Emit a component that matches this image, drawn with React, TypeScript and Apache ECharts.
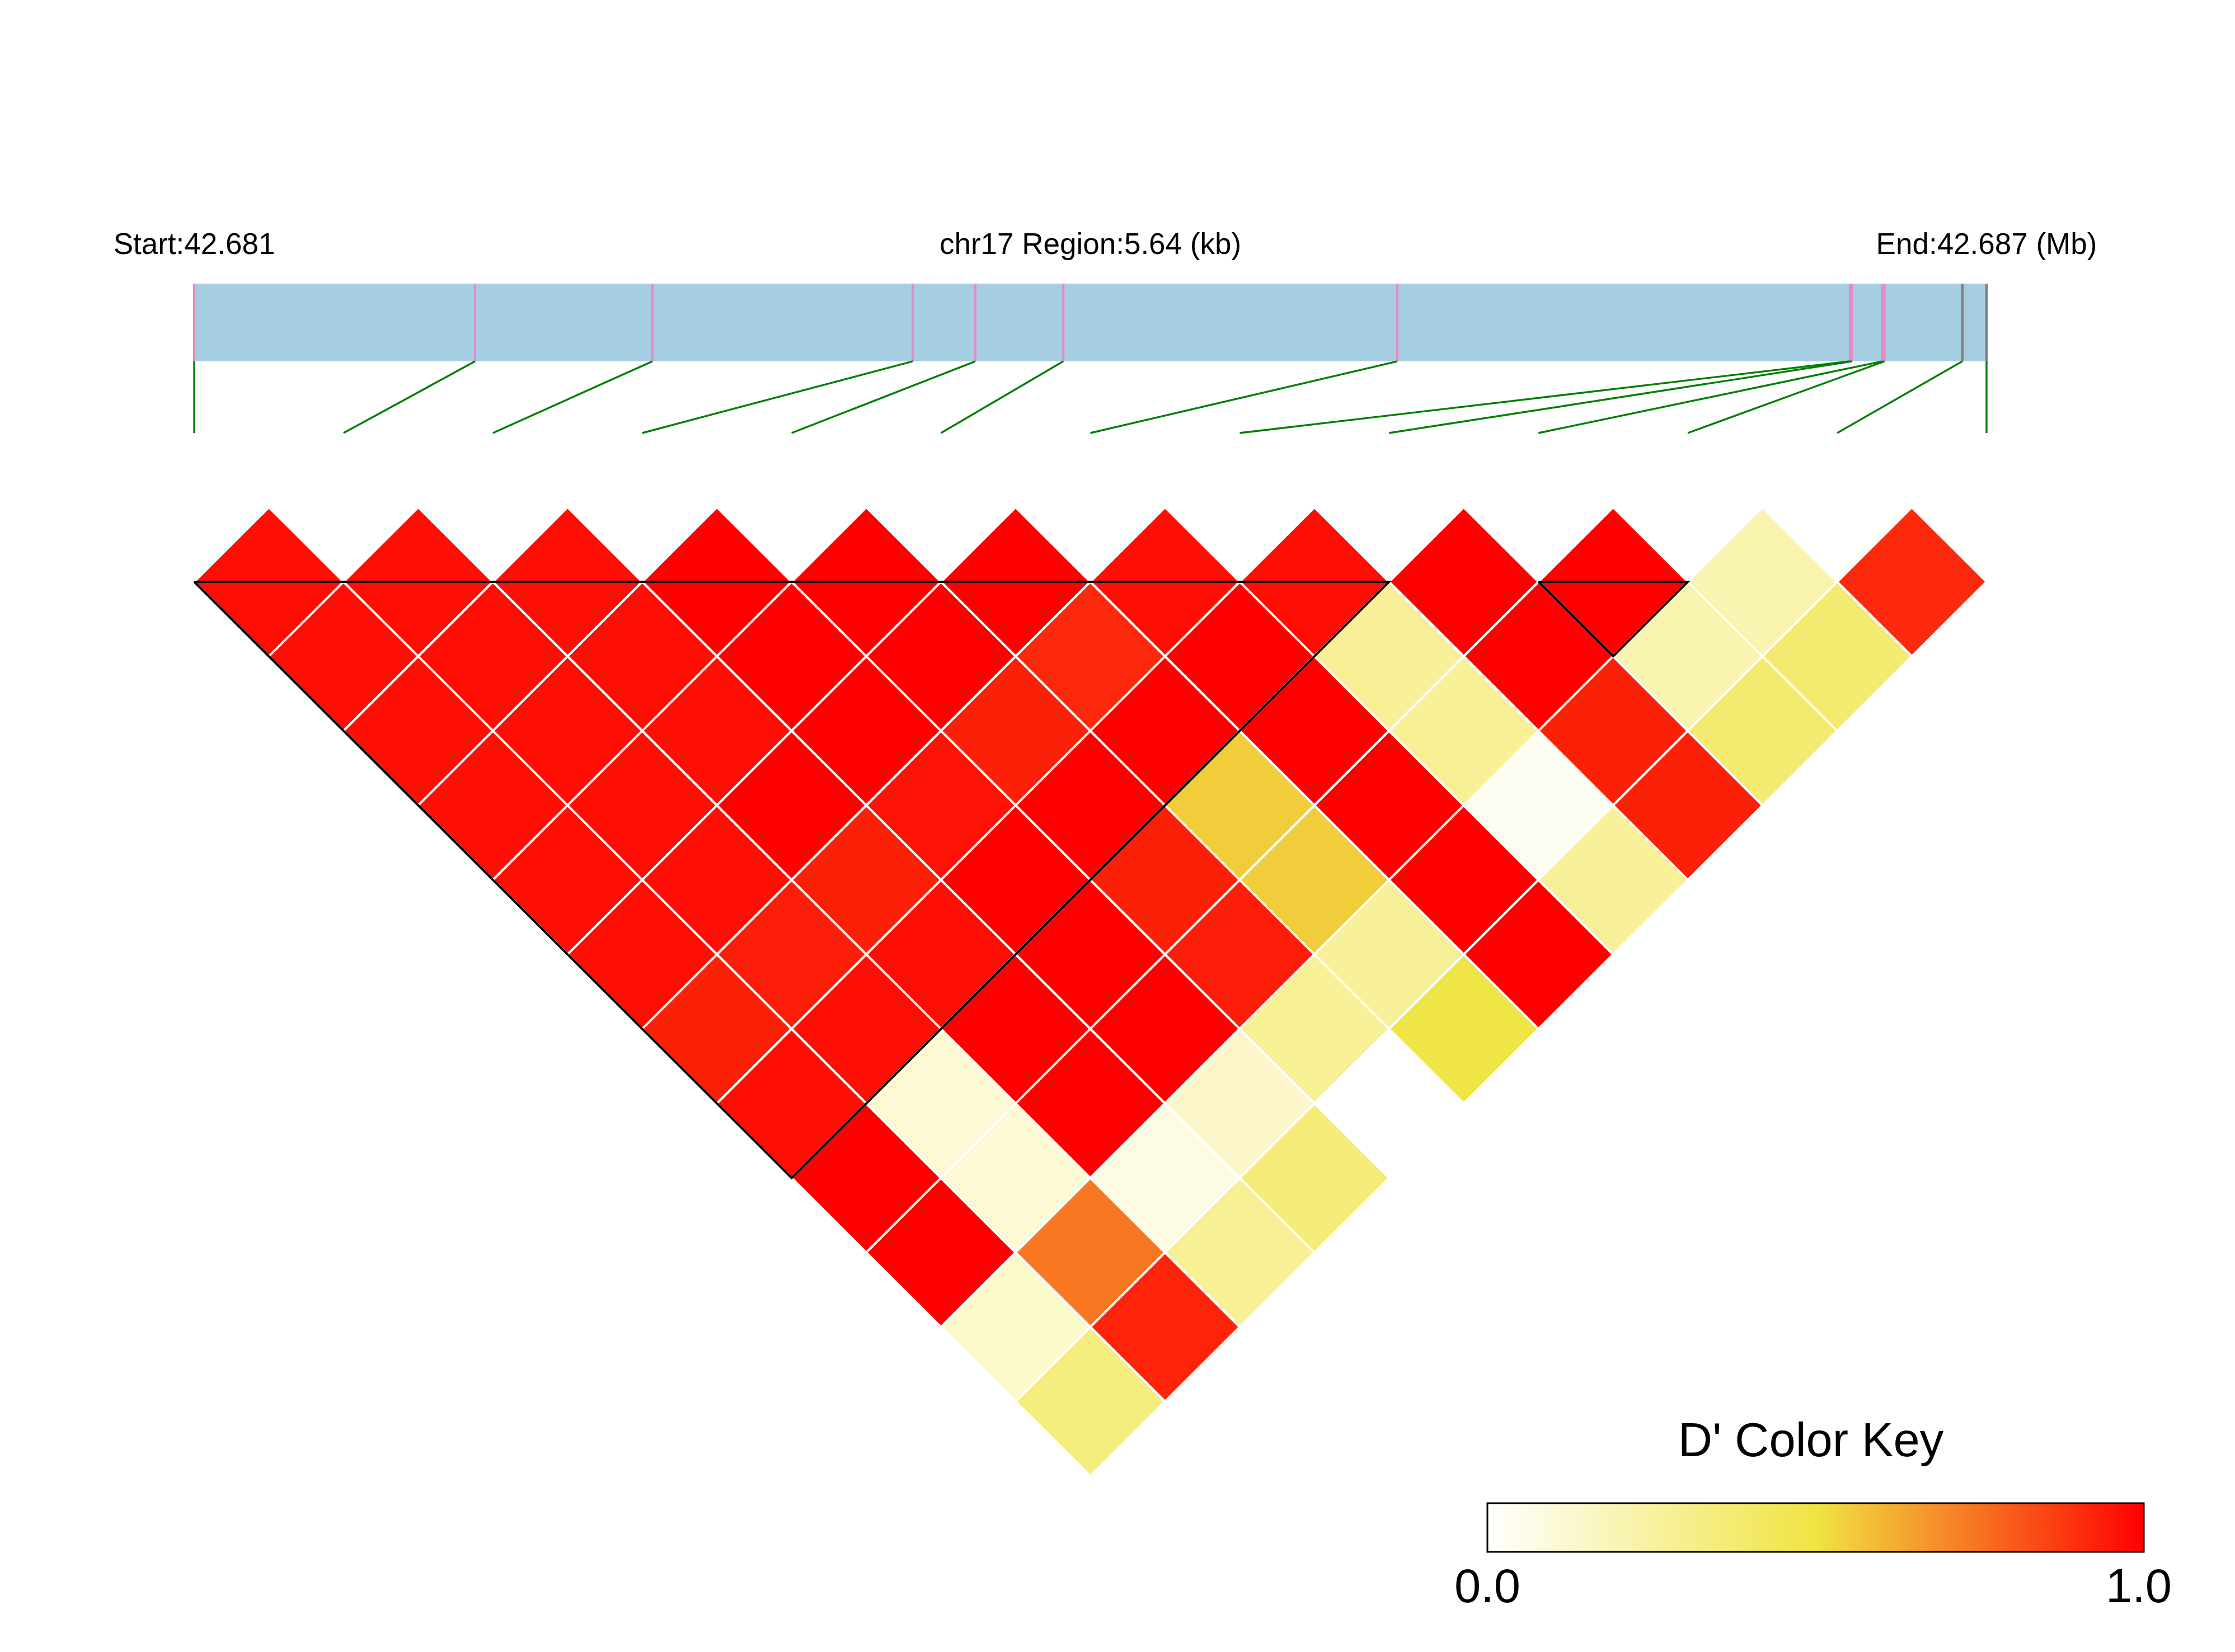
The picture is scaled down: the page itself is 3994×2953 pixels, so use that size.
import React, { useEffect, useRef } from "react";
import * as echarts from "echarts";

// ---------------- data ----------------
const regionChrom = "chr17";
const regionStartBp = 42681200;
const regionEndBp = 42686840;

const snpPositionsBp = [
  42681200, 42682084, 42682642, 42683461, 42683658, 42683935, 42684986,
  42686410, 42686417, 42686512, 42686519, 42686764, 42686840,
];
const snpMarkerColors = [
  "#e78ac3", "#e78ac3", "#e78ac3", "#e78ac3", "#e78ac3", "#e78ac3", "#e78ac3",
  "#e78ac3", "#e78ac3", "#e78ac3", "#e78ac3", "#808080", "#808080",
];

// D' upper triangle: row i holds D'(i, j) for j = i+1 .. 13 (null = missing)
const dPrimeRow1 = [0.97, 0.97, 0.97, 0.97, 0.97, 0.97, 0.93, 0.97, 1, 1, 0.135, 0.34];
const dPrimeRow2 = [0.97, 0.97, 0.97, 0.97, 0.97, 0.935, 0.97, 0.11, 0.11, 0.74, 0.92];
const dPrimeRow3 = [0.97, 0.97, 0.97, 1, 0.93, 0.97, 1, 1, 0.08, 0.28];
const dPrimeRow4 = [1, 1, 1, 0.96, 1, 1, 1, 0.14, 0.36];
const dPrimeRow5 = [1, 1, 0.93, 1, 0.93, 0.935, 0.28, null];
const dPrimeRow6 = [1, 0.91, 1, 0.55, 0.55, 0.27, 0.49];
const dPrimeRow7 = [0.97, 1, 1, 1, 1, 1];
const dPrimeRow8 = [0.97, 0.27, 0.28, 0.03, 0.27];
const dPrimeRow9 = [1, 1, 0.93, 0.93];
const dPrimeRow10 = [1, 0.21, 0.38];
const dPrimeRow11 = [0.21, 0.38];
const dPrimeRow12 = [0.91];

// LD blocks (1-based first and last SNP)
const ldBlocks = [
  [1, 9],
  [10, 11],
];

const colorKeyStops = ["#FFFFFF", "#F0E442", "#FF0000"];
const colorKeyLabels = ["0.0", "1.0"];
const colorKeyTitle = "D' Color Key";

// ---------------- helpers ----------------
const dPrimeRows = [
  dPrimeRow1, dPrimeRow2, dPrimeRow3, dPrimeRow4, dPrimeRow5, dPrimeRow6,
  dPrimeRow7, dPrimeRow8, dPrimeRow9, dPrimeRow10, dPrimeRow11, dPrimeRow12,
];

function hexToRgb(h: string) {
  const n = parseInt(h.slice(1), 16);
  return [(n >> 16) & 255, (n >> 8) & 255, n & 255];
}
function colorFor(v: number) {
  const stops = colorKeyStops.map(hexToRgb);
  const seg = stops.length - 1;
  const t = Math.max(0, Math.min(1, v)) * seg;
  const k = Math.min(seg - 1, Math.floor(t));
  const f = t - k;
  const a = stops[k];
  const b = stops[k + 1];
  const c = a.map((x, idx) => Math.round(x + (b[idx] - x) * f));
  return `rgb(${c[0]},${c[1]},${c[2]})`;
}

const FONT = "'Liberation Sans', Arial, Helvetica, sans-serif";

export default function App() {
  const ref = useRef<HTMLDivElement | null>(null);

  useEffect(() => {
    if (!ref.current) return;
    const chart = echarts.init(ref.current, undefined, { renderer: "svg" });
    const nSnp = snpPositionsBp.length;

    const cellData: number[][] = [];
    dPrimeRows.forEach((row, i) => {
      row.forEach((v, k) => {
        if (v !== null && v !== undefined) cellData.push([i, i + k + 1, v as number]);
      });
    });

    const snpData = snpPositionsBp.map((p, k) => [p, k]);
    const headerLabels = [
      `Start:${(regionStartBp / 1e6).toFixed(3)}`,
      `${regionChrom} Region:${((regionEndBp - regionStartBp) / 1000).toFixed(2)} (kb)`,
      `End:${(regionEndBp / 1e6).toFixed(3)} (Mb)`,
    ];
    const headerData = [
      [regionStartBp, 0],
      [(regionStartBp + regionEndBp) / 2, 1],
      [regionEndBp, 2],
    ];

    const barTop = 0;
    const barBottom = 52;
    const lineBottom = 100;
    const labelY = -26.6;

    const textStyle = (text: string, size: number) => ({
      text,
      fill: "#000",
      fontSize: size,
      fontFamily: FONT,
      align: "center",
      verticalAlign: "middle",
      textAlign: "center",
      textVerticalAlign: "middle",
    });

    const option: any = {
      animation: false,
      backgroundColor: "#ffffff",
      grid: [
        { left: 347, top: 507, width: 3203, height: 267 },
        { left: 347, top: 906.8, width: 3203, height: 1731.6 },
      ],
      xAxis: [
        { gridIndex: 0, type: "value", min: regionStartBp, max: regionEndBp, show: false },
        { gridIndex: 1, type: "value", min: 0, max: nSnp - 1, show: false },
      ],
      yAxis: [
        { gridIndex: 0, type: "value", min: 0, max: 100, inverse: true, show: false },
        { gridIndex: 1, type: "value", min: 0, max: nSnp, inverse: true, show: false },
      ],
      series: [
        {
          type: "custom",
          xAxisIndex: 0,
          yAxisIndex: 0,
          data: [[regionStartBp, regionEndBp]],
          renderItem: (params: any, api: any) => {
            const p0 = api.coord([api.value(0), barTop]);
            const p1 = api.coord([api.value(1), barBottom]);
            return {
              type: "rect",
              shape: { x: p0[0], y: p0[1], width: p1[0] - p0[0], height: p1[1] - p0[1] },
              style: { fill: "#a6cee3" },
            };
          },
        },
        {
          type: "custom",
          xAxisIndex: 0,
          yAxisIndex: 0,
          data: snpData,
          renderItem: (params: any, api: any) => {
            const pos = api.value(0);
            const k = api.value(1);
            const evenBp = regionStartBp + (k * (regionEndBp - regionStartBp)) / (nSnp - 1);
            const a = api.coord([pos, barTop]);
            const b = api.coord([pos, barBottom]);
            const c = api.coord([evenBp, lineBottom]);
            const col = snpMarkerColors[k];
            return {
              type: "group",
              children: [
                {
                  type: "line",
                  shape: { x1: a[0], y1: a[1], x2: b[0], y2: b[1] },
                  style: { stroke: col, lineWidth: col === "#808080" ? 4.5 : 4 },
                },
                {
                  type: "line",
                  shape: { x1: b[0], y1: b[1], x2: c[0], y2: c[1] },
                  style: { stroke: "#008000", lineWidth: 3.4 },
                },
              ],
            };
          },
        },
        {
          type: "custom",
          xAxisIndex: 0,
          yAxisIndex: 0,
          data: headerData,
          renderItem: (params: any, api: any) => {
            const p = api.coord([api.value(0), labelY]);
            return {
              type: "text",
              x: p[0],
              y: p[1],
              style: textStyle(headerLabels[api.value(1)], 53),
            };
          },
        },
        {
          type: "custom",
          xAxisIndex: 1,
          yAxisIndex: 1,
          data: cellData,
          renderItem: (params: any, api: any) => {
            const i = api.value(0);
            const j = api.value(1);
            const v = api.value(2);
            const xc = (i + j) / 2;
            const yc = j - i;
            const pts = [
              [xc, yc - 1],
              [xc + 0.5, yc],
              [xc, yc + 1],
              [xc - 0.5, yc],
            ].map((q) => api.coord(q));
            return {
              type: "polygon",
              shape: { points: pts },
              style: { fill: colorFor(v), stroke: "#ffffff", lineWidth: 4 },
            };
          },
        },
        {
          type: "custom",
          xAxisIndex: 1,
          yAxisIndex: 1,
          data: ldBlocks.map((b) => [b[0] - 1, b[1] - 1]),
          renderItem: (params: any, api: any) => {
            const a = api.value(0);
            const b = api.value(1);
            const pts = [
              [a, 1],
              [b, 1],
              [(a + b) / 2, 1 + (b - a)],
              [a, 1],
            ].map((q) => api.coord(q));
            return {
              type: "polyline",
              shape: { points: pts },
              style: { fill: null, stroke: "#000000", lineWidth: 4, lineJoin: "miter" },
            };
          },
        },
      ],
      graphic: [
        {
          type: "rect",
          shape: { x: 2658, y: 2687, width: 1173, height: 87 },
          style: {
            fill: new echarts.graphic.LinearGradient(
              0, 0, 1, 0,
              colorKeyStops.map((c, idx) => ({ offset: idx / (colorKeyStops.length - 1), color: c }))
            ),
            stroke: "#000000",
            lineWidth: 3,
          },
        },
        { type: "text", x: 3236, y: 2573, style: textStyle(colorKeyTitle, 85) },
        { type: "text", x: 2658, y: 2834, style: textStyle(colorKeyLabels[0], 85) },
        { type: "text", x: 3822, y: 2834, style: textStyle(colorKeyLabels[1], 85) },
      ],
    };

    chart.setOption(option);
    return () => chart.dispose();
  }, []);

  return (
    <div
      ref={ref}
      style={{ position: "fixed", left: 0, top: 0, width: 3994, height: 2953, background: "#fff" }}
    />
  );
}
